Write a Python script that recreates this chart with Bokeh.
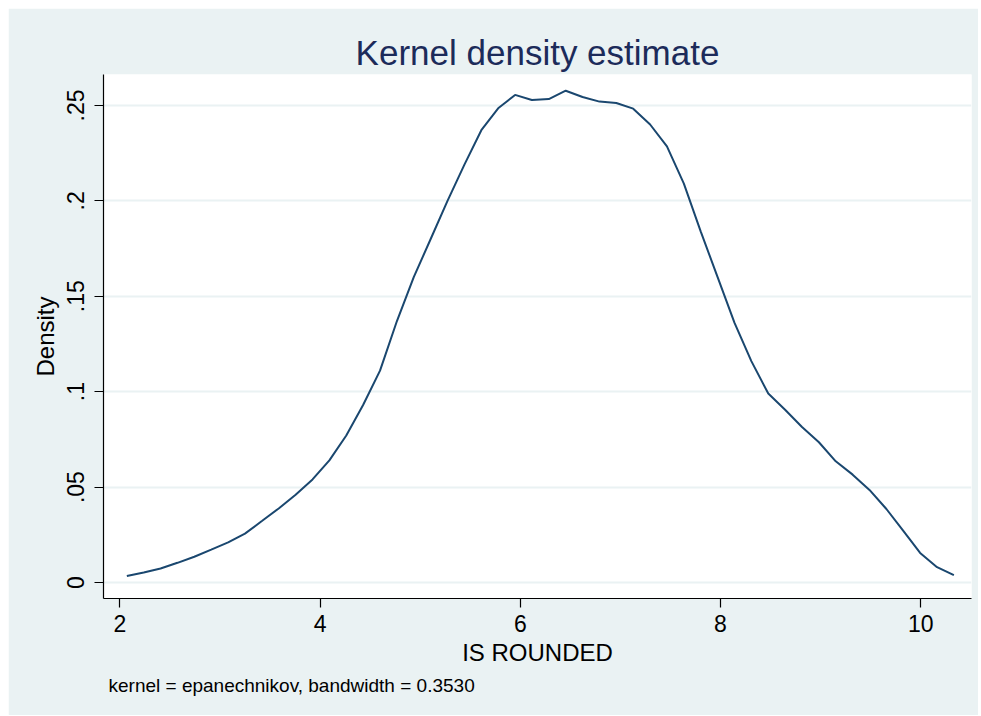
from bokeh.plotting import figure
from bokeh.models import Range1d, FixedTicker, Title
from bokeh.embed import file_html
from bokeh.resources import INLINE

# Kernel density estimate (50 evaluation points)
x_vals = [2.070, 2.239, 2.407, 2.576, 2.744, 2.913, 3.082, 3.250, 3.419, 3.587,
          3.756, 3.925, 4.093, 4.262, 4.430, 4.599, 4.768, 4.936, 5.105, 5.273,
          5.442, 5.611, 5.779, 5.948, 6.116, 6.285, 6.454, 6.622, 6.791, 6.959,
          7.128, 7.297, 7.465, 7.634, 7.802, 7.971, 8.140, 8.308, 8.477, 8.645,
          8.814, 8.983, 9.151, 9.320, 9.488, 9.657, 9.826, 9.994, 10.163, 10.331]
density = [0.0034, 0.0052, 0.0073, 0.0103, 0.0135, 0.0172, 0.0210, 0.0256, 0.0322, 0.0388,
           0.0460, 0.0540, 0.0640, 0.0770, 0.0930, 0.1110, 0.1370, 0.1600, 0.1800, 0.2000,
           0.2190, 0.2370, 0.2485, 0.2555, 0.2528, 0.2533, 0.2577, 0.2544, 0.2520, 0.2513,
           0.2483, 0.2400, 0.2285, 0.2090, 0.1840, 0.1600, 0.1360, 0.1160, 0.0990, 0.0905,
           0.0815, 0.0735, 0.0635, 0.0565, 0.0485, 0.0385, 0.0270, 0.0155, 0.0080, 0.0038]

x_ticks = [2, 4, 6, 8, 10]
y_ticks = [0, 0.05, 0.1, 0.15, 0.2, 0.25]
y_tick_labels = ["0", ".05", ".1", ".15", ".2", ".25"]

title_text = "Kernel density estimate"
x_label = "IS ROUNDED"
y_label = "Density"
note_text = "kernel = epanechnikov, bandwidth = 0.3530"

BG = "#EAF2F3"
FONT = "Liberation Sans"

p = figure(width=970, height=707, output_backend="svg", toolbar_location=None,
           x_range=Range1d(1.837, 10.507), y_range=Range1d(-0.0084, 0.2662))
p.margin = (8, 3, 1, 8)
p.min_border_left = 95
p.min_border_right = 7
p.min_border_top = 66
p.min_border_bottom = 117
p.background_fill_color = "white"
p.border_fill_color = BG
p.outline_line_color = None

p.title.text = title_text
p.title.text_font = FONT
p.title.text_font_size = "35px"
p.title.text_font_style = "normal"
p.title.text_color = "#1c2b5a"
p.title.align = "center"
p.title.standoff = 5

p.line(x_vals, density, line_color="#1a476f", line_width=2)

p.xaxis.ticker = FixedTicker(ticks=x_ticks)
p.yaxis.ticker = FixedTicker(ticks=y_ticks)
p.yaxis.major_label_overrides = {t: l for t, l in zip(y_ticks, y_tick_labels)}
p.yaxis.major_label_orientation = "vertical"

for ax in (p.xaxis, p.yaxis):
    ax.axis_line_color = "black"
    ax.axis_line_width = 1.2
    ax.major_tick_line_color = "black"
    ax.major_tick_line_width = 1.2
    ax.major_tick_out = 9
    ax.major_tick_in = 0
    ax.minor_tick_line_color = None
    ax.major_label_text_font = FONT
    ax.major_label_text_font_size = "23px"
    ax.major_label_text_color = "black"
    ax.axis_label_text_font = FONT
    ax.axis_label_text_font_size = "24px"
    ax.axis_label_text_font_style = "normal"
    ax.axis_label_text_color = "black"

p.xaxis.axis_label = x_label
p.yaxis.axis_label = y_label
p.xaxis.major_label_standoff = 7
p.xaxis.axis_label_standoff = 4
p.yaxis.major_label_standoff = 10
p.yaxis.axis_label_standoff = 6

p.xgrid.grid_line_color = None
p.ygrid.grid_line_color = BG
p.ygrid.grid_line_width = 2

note = Title(text=note_text, align="left", offset=5, standoff=9,
             text_font=FONT, text_font_size="19px", text_font_style="normal",
             text_color="black")
p.add_layout(note, "below")

open("out.html", "w").write(file_html(p, INLINE))
